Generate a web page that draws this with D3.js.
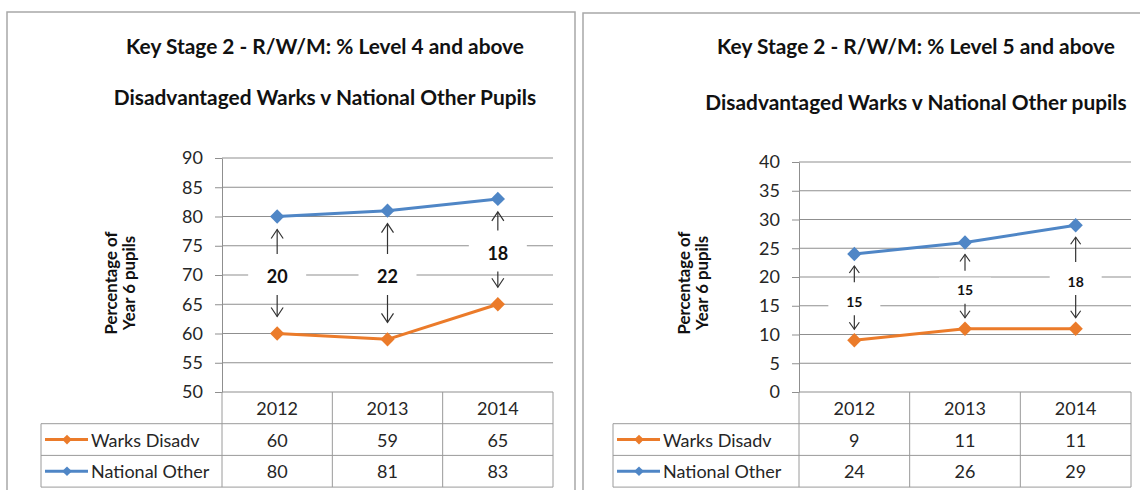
<!DOCTYPE html>
<html>
<head>
<meta charset="utf-8">
<script src="https://cdn.jsdelivr.net/npm/d3@7"></script>
<style>
  body { margin: 0; background: #fff; }
  svg { display: block; }
  text { font-family: Lato, "Open Sans", "DejaVu Sans", sans-serif; }
</style>
</head>
<body>
<svg id="chart" width="1140" height="490"></svg>
<script>
// ---- data ----
const years = ["2012", "2013", "2014"];
const seriesNames = ["Warks Disadv", "National Other"];
const level4Disadv = [60, 59, 65];
const level4Other = [80, 81, 83];
const level5Disadv = [9, 11, 11];
const level5Other = [24, 26, 29];
const level4Ticks = [50, 55, 60, 65, 70, 75, 80, 85, 90];
const level5Ticks = [0, 5, 10, 15, 20, 25, 30, 35, 40];
const level4Titles = ["Key Stage 2 - R/W/M: % Level 4 and above", "Disadvantaged Warks v National Other Pupils"];
const level5Titles = ["Key Stage 2 - R/W/M: % Level 5 and above", "Disadvantaged Warks v National Other pupils"];
const axisTitleLines = ["Percentage of", "Year 6 pupils"];
const seriesColors = ["#EB7B2A", "#4F86C6"];

const svg = d3.select("#chart");
const gridColor = "#8f8f8f";
const tableColor = "#9a9a9a";
const textColor = "#262626";

function fitWidth(sel, width) {
  const w = sel.node().getComputedTextLength();
  const fs = parseFloat(sel.attr("font-size"));
  sel.attr("font-size", fs * width / w);
  return fs * width / w;
}

function arrow(g, x, yFrom, yTo, head, color) {
  const dir = yTo < yFrom ? 1 : -1; // 1 = pointing up
  g.append("line").attr("x1", x).attr("x2", x).attr("y1", yFrom).attr("y2", yTo)
    .attr("stroke", color).attr("stroke-width", 1.2);
  g.append("polyline")
    .attr("points", [[x - head.w, yTo + dir * head.h], [x, yTo], [x + head.w, yTo + dir * head.h]].map(p => p.join(",")).join(" "))
    .attr("fill", "none").attr("stroke", color).attr("stroke-width", 1.2);
}

function drawPanel(opt) {
  const g = svg.append("g");
  const series = [opt.disadv, opt.other];

  // frame
  g.append("path")
    .attr("d", opt.frame)
    .attr("fill", "none").attr("stroke", "#a8a8a8").attr("stroke-width", 1.5);

  const x = d3.scaleBand().domain(years).range([opt.left, opt.right]);
  const y = d3.scaleLinear().domain(d3.extent(opt.ticks)).range([opt.bottom, opt.top]);
  const cx = d => x(d) + x.bandwidth() / 2;

  // titles
  const t1 = g.append("text").attr("x", opt.titleX).attr("y", opt.titleY[0])
    .attr("text-anchor", "middle").attr("dominant-baseline", "central")
    .attr("font-weight", "bold").attr("font-size", 16).attr("fill", "#111").text(opt.titles[0]);
  const fs = fitWidth(t1, opt.titleWidth);
  g.append("text").attr("x", opt.titleX).attr("y", opt.titleY[1])
    .attr("text-anchor", "middle").attr("dominant-baseline", "central")
    .attr("font-weight", "bold").attr("font-size", fs).attr("fill", "#111").text(opt.titles[1]);

  // rotated axis title
  axisTitleLines.forEach((line, i) => {
    const t = g.append("text")
      .attr("transform", `translate(${opt.axisTitleX[i]},${opt.axisTitleY}) rotate(-90)`)
      .attr("text-anchor", "middle").attr("dominant-baseline", "central")
      .attr("font-weight", "bold").attr("font-size", 14).attr("fill", "#111").text(line);
    if (i === 0) fitWidth(t, opt.axisTitleWidth);
    else t.attr("font-size", g.select("text[transform*='rotate']").attr("font-size"));
  });

  // horizontal gridlines
  g.append("g").selectAll("line").data(opt.ticks).join("line")
    .attr("x1", opt.left).attr("x2", opt.right)
    .attr("y1", d => y(d)).attr("y2", d => y(d))
    .attr("stroke", gridColor).attr("stroke-width", 1);

  // y axis
  const ax = g.append("g").attr("transform", `translate(${opt.left},0)`)
    .call(d3.axisLeft(y).tickValues(opt.ticks).tickSize(7).tickSizeOuter(0).tickPadding(12));
  ax.select(".domain").attr("stroke", gridColor);
  ax.selectAll(".tick line").attr("stroke", gridColor);
  ax.selectAll(".tick text").attr("font-size", 18).attr("fill", textColor)
    .style("font-family", "Lato, 'Open Sans', sans-serif");

  // data table under the plot
  const rowY = [opt.bottom, opt.bottom + opt.rowH, opt.bottom + 2 * opt.rowH, opt.bottom + 3 * opt.rowH];
  const tbl = g.append("g").attr("stroke", tableColor).attr("stroke-width", 1);
  [rowY[1], rowY[2], rowY[3]].forEach(yy =>
    tbl.append("line").attr("x1", opt.tableLeft).attr("x2", opt.right).attr("y1", yy).attr("y2", yy));
  tbl.append("line").attr("x1", opt.tableLeft).attr("x2", opt.tableLeft).attr("y1", rowY[1]).attr("y2", rowY[3]);
  [opt.left, ...years.map(d => x(d) + x.bandwidth())].forEach(xx =>
    tbl.append("line").attr("x1", xx).attr("x2", xx).attr("y1", rowY[0]).attr("y2", rowY[3]));

  g.append("g").selectAll("text").data(years).join("text")
    .attr("x", cx).attr("y", (rowY[0] + rowY[1]) / 2)
    .attr("text-anchor", "middle").attr("dominant-baseline", "central")
    .attr("font-size", 18).attr("fill", textColor).text(d => d);

  series.forEach((vals, s) => {
    const yy = (rowY[s + 1] + rowY[s + 2]) / 2;
    const row = g.append("g");
    row.selectAll("text").data(vals).join("text")
      .attr("x", (d, i) => cx(years[i])).attr("y", yy)
      .attr("text-anchor", "middle").attr("dominant-baseline", "central")
      .attr("font-size", 18).attr("fill", textColor).text(d => d);
    // legend key
    const kx = opt.tableLeft + 4;
    row.append("line").attr("x1", kx).attr("x2", kx + 43).attr("y1", yy).attr("y2", yy)
      .attr("stroke", seriesColors[s]).attr("stroke-width", 3);
    row.append("path").attr("d", d3.symbol(d3.symbolDiamond2, 60)())
      .attr("transform", `translate(${kx + 22},${yy})`).attr("fill", seriesColors[s]);
    row.append("text").attr("x", kx + 46).attr("y", yy).attr("dominant-baseline", "central")
      .attr("font-size", 18).attr("fill", textColor).text(seriesNames[s]);
  });

  // gap annotations between the two series
  const ann = g.append("g");
  years.forEach((yr, i) => {
    const gap = opt.other[i] - opt.disadv[i];
    const px = cx(yr);
    const ly = y((opt.other[i] + opt.disadv[i]) / 2) + opt.gap.shift;
    ann.append("rect").attr("x", px - opt.gap.boxW / 2).attr("y", ly - opt.gap.boxH / 2)
      .attr("width", opt.gap.boxW).attr("height", opt.gap.boxH).attr("fill", "#fff");
    ann.append("text").attr("x", px).attr("y", ly).attr("text-anchor", "middle")
      .attr("dominant-baseline", "central").attr("font-weight", "bold")
      .attr("font-size", opt.gap.size).attr("fill", "#111").text(gap);
    arrow(ann, px, ly - opt.gap.upTail, y(opt.other[i]) + opt.gap.upTip, opt.gap.head, "#333");
    arrow(ann, px, ly + opt.gap.downTail, y(opt.disadv[i]) - opt.gap.downTip, opt.gap.head, "#333");
  });

  // series lines and markers
  const line = d3.line().x((d, i) => cx(years[i])).y(d => y(d));
  series.forEach((vals, s) => {
    g.append("path").datum(vals).attr("d", line)
      .attr("fill", "none").attr("stroke", seriesColors[s]).attr("stroke-width", 3)
      .attr("stroke-linejoin", "round");
    g.append("g").selectAll("path").data(vals).join("path")
      .attr("d", d3.symbol(d3.symbolDiamond2, 130)())
      .attr("transform", (d, i) => `translate(${cx(years[i])},${y(d)})`)
      .attr("fill", seriesColors[s]);
  });
}

drawPanel({
  frame: "M7,500 V12 H575 V500",
  left: 222, right: 553, top: 158, bottom: 392, rowH: 31.7, tableLeft: 41,
  ticks: level4Ticks, disadv: level4Disadv, other: level4Other,
  titles: level4Titles, titleX: 325, titleY: [45, 96], titleWidth: 398,
  axisTitleX: [110, 128], axisTitleY: 283, axisTitleWidth: 103,
  gap: { shift: 1, boxW: 58, boxH: 28, size: 18, upTail: 22, upTip: 13, downTail: 19, downTip: 17, head: { w: 6, h: 9 } }
});

drawPanel({
  frame: "M583,500 V13 H1145",
  left: 799, right: 1131, top: 162, bottom: 392, rowH: 31.7, tableLeft: 613,
  ticks: level5Ticks, disadv: level5Disadv, other: level5Other,
  titles: level5Titles, titleX: 916, titleY: [45, 101], titleWidth: 398,
  axisTitleX: [683, 701], axisTitleY: 283, axisTitleWidth: 103,
  gap: { shift: 4, boxW: 52, boxH: 24, size: 14, upTail: 19, upTip: 12, downTail: 14, downTip: 11, head: { w: 5, h: 7 } }
});
</script>
</body>
</html>
